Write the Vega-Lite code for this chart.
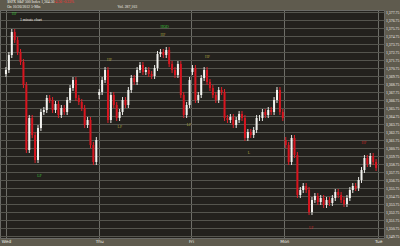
{
  "$schema": "https://vega.github.io/schema/vega-lite/v6.json",
  "width": 384,
  "height": 228,
  "autosize": {"type": "none"},
  "padding": {"left": 0, "top": 10, "right": 16, "bottom": 8},
  "background": "#5f5b4e",
  "config": {
    "view": {"fill": "#23211d", "stroke": "#6a6a66"},
    "font": "DejaVu Sans"
  },
  "datasets": {
    "bars": [
      {"i":0,"o":1370.0,"h":1370.875,"l":1369.625,"c":1370.5},
      {"i":1,"o":1370.5,"h":1372.75,"l":1370.125,"c":1372.375},
      {"i":2,"o":1372.375,"h":1375.625,"l":1372.0,"c":1375.25},
      {"i":3,"o":1375.25,"h":1375.625,"l":1373.875,"c":1374.25},
      {"i":4,"o":1374.25,"h":1374.625,"l":1372.375,"c":1372.75},
      {"i":5,"o":1372.75,"h":1373.125,"l":1371.125,"c":1371.5},
      {"i":6,"o":1371.5,"h":1371.875,"l":1368.25,"c":1368.625},
      {"i":7,"o":1368.625,"h":1369.0,"l":1360.125,"c":1360.5},
      {"i":8,"o":1360.5,"h":1364.875,"l":1360.125,"c":1364.5},
      {"i":9,"o":1364.5,"h":1364.875,"l":1362.0,"c":1362.375},
      {"i":10,"o":1362.375,"h":1362.75,"l":1358.875,"c":1359.25},
      {"i":11,"o":1359.25,"h":1363.625,"l":1358.875,"c":1363.25},
      {"i":12,"o":1363.25,"h":1365.625,"l":1362.875,"c":1365.25},
      {"i":13,"o":1365.25,"h":1365.875,"l":1364.875,"c":1365.5},
      {"i":14,"o":1365.5,"h":1367.375,"l":1365.125,"c":1367.0},
      {"i":15,"o":1367.0,"h":1367.375,"l":1366.375,"c":1366.75},
      {"i":16,"o":1366.75,"h":1367.125,"l":1365.125,"c":1365.5},
      {"i":17,"o":1365.5,"h":1366.625,"l":1365.125,"c":1366.25},
      {"i":18,"o":1366.25,"h":1366.625,"l":1364.5,"c":1364.875},
      {"i":19,"o":1364.875,"h":1366.125,"l":1364.5,"c":1365.75},
      {"i":20,"o":1365.75,"h":1366.125,"l":1364.875,"c":1365.25},
      {"i":21,"o":1365.25,"h":1367.125,"l":1364.875,"c":1366.75},
      {"i":22,"o":1366.75,"h":1368.625,"l":1366.375,"c":1368.25},
      {"i":23,"o":1368.25,"h":1369.625,"l":1367.875,"c":1369.25},
      {"i":24,"o":1369.25,"h":1369.625,"l":1366.625,"c":1367.0},
      {"i":25,"o":1367.0,"h":1367.375,"l":1366.125,"c":1366.5},
      {"i":26,"o":1366.5,"h":1366.875,"l":1365.375,"c":1365.75},
      {"i":27,"o":1365.75,"h":1366.125,"l":1363.25,"c":1363.625},
      {"i":28,"o":1363.625,"h":1364.625,"l":1363.25,"c":1364.25},
      {"i":29,"o":1364.25,"h":1364.625,"l":1360.75,"c":1361.125},
      {"i":30,"o":1361.125,"h":1361.5,"l":1358.625,"c":1359.0},
      {"i":31,"o":1359.0,"h":1362.125,"l":1358.625,"c":1361.75},
      {"i":32,"o":1367.375,"h":1368.125,"l":1366.875,"c":1367.75},
      {"i":33,"o":1367.75,"h":1369.625,"l":1367.375,"c":1369.25},
      {"i":34,"o":1369.25,"h":1370.875,"l":1368.875,"c":1370.5},
      {"i":35,"o":1370.5,"h":1370.875,"l":1363.875,"c":1364.25},
      {"i":36,"o":1364.25,"h":1367.75,"l":1363.875,"c":1367.375},
      {"i":37,"o":1367.375,"h":1367.75,"l":1365.75,"c":1366.125},
      {"i":38,"o":1366.125,"h":1366.5,"l":1364.125,"c":1364.5},
      {"i":39,"o":1364.5,"h":1365.625,"l":1364.125,"c":1365.25},
      {"i":40,"o":1365.25,"h":1367.125,"l":1364.875,"c":1366.75},
      {"i":41,"o":1366.75,"h":1367.125,"l":1365.75,"c":1366.125},
      {"i":42,"o":1366.125,"h":1368.375,"l":1365.75,"c":1368.0},
      {"i":43,"o":1368.0,"h":1369.875,"l":1367.625,"c":1369.5},
      {"i":44,"o":1369.5,"h":1369.875,"l":1368.625,"c":1369.0},
      {"i":45,"o":1369.0,"h":1370.875,"l":1368.625,"c":1370.5},
      {"i":46,"o":1370.5,"h":1371.5,"l":1370.125,"c":1371.125},
      {"i":47,"o":1371.125,"h":1371.5,"l":1369.875,"c":1370.25},
      {"i":48,"o":1370.25,"h":1370.875,"l":1369.875,"c":1370.5},
      {"i":49,"o":1370.5,"h":1370.875,"l":1369.625,"c":1370.0},
      {"i":50,"o":1370.0,"h":1370.375,"l":1369.375,"c":1369.75},
      {"i":51,"o":1369.75,"h":1371.125,"l":1369.375,"c":1370.75},
      {"i":52,"o":1370.75,"h":1372.875,"l":1370.375,"c":1372.5},
      {"i":53,"o":1372.5,"h":1373.125,"l":1372.125,"c":1372.75},
      {"i":54,"o":1372.75,"h":1373.125,"l":1372.0,"c":1372.375},
      {"i":55,"o":1372.375,"h":1373.375,"l":1372.0,"c":1373.0},
      {"i":56,"o":1373.0,"h":1373.375,"l":1370.875,"c":1371.25},
      {"i":57,"o":1371.25,"h":1371.625,"l":1370.125,"c":1370.5},
      {"i":58,"o":1370.5,"h":1370.875,"l":1369.5,"c":1369.875},
      {"i":59,"o":1369.875,"h":1371.625,"l":1369.5,"c":1371.25},
      {"i":60,"o":1371.25,"h":1371.625,"l":1367.0,"c":1367.375},
      {"i":61,"o":1367.375,"h":1367.75,"l":1364.5,"c":1364.875},
      {"i":62,"o":1364.875,"h":1366.5,"l":1364.5,"c":1366.125},
      {"i":63,"o":1366.125,"h":1369.625,"l":1365.75,"c":1369.25},
      {"i":64,"o":1370.25,"h":1371.125,"l":1369.875,"c":1370.75},
      {"i":65,"o":1370.75,"h":1371.125,"l":1366.375,"c":1366.75},
      {"i":66,"o":1366.75,"h":1367.75,"l":1366.375,"c":1367.375},
      {"i":67,"o":1367.375,"h":1369.875,"l":1367.0,"c":1369.5},
      {"i":68,"o":1369.5,"h":1370.875,"l":1369.125,"c":1370.5},
      {"i":69,"o":1370.5,"h":1370.875,"l":1368.625,"c":1369.0},
      {"i":70,"o":1369.0,"h":1369.375,"l":1367.875,"c":1368.25},
      {"i":71,"o":1368.25,"h":1368.625,"l":1367.0,"c":1367.375},
      {"i":72,"o":1367.375,"h":1367.75,"l":1366.375,"c":1366.75},
      {"i":73,"o":1366.75,"h":1368.375,"l":1366.375,"c":1368.0},
      {"i":74,"o":1368.0,"h":1368.375,"l":1367.375,"c":1367.75},
      {"i":75,"o":1367.75,"h":1368.125,"l":1364.125,"c":1364.5},
      {"i":76,"o":1364.5,"h":1364.875,"l":1363.875,"c":1364.25},
      {"i":77,"o":1364.25,"h":1365.0,"l":1363.875,"c":1364.625},
      {"i":78,"o":1364.625,"h":1365.0,"l":1363.25,"c":1363.625},
      {"i":79,"o":1363.625,"h":1364.625,"l":1363.25,"c":1364.25},
      {"i":80,"o":1364.25,"h":1365.375,"l":1363.875,"c":1365.0},
      {"i":81,"o":1365.0,"h":1365.375,"l":1364.125,"c":1364.5},
      {"i":82,"o":1364.5,"h":1364.875,"l":1361.625,"c":1362.0},
      {"i":83,"o":1362.0,"h":1363.125,"l":1361.625,"c":1362.75},
      {"i":84,"o":1362.75,"h":1363.125,"l":1362.0,"c":1362.375},
      {"i":85,"o":1362.375,"h":1363.375,"l":1362.0,"c":1363.0},
      {"i":86,"o":1363.0,"h":1364.875,"l":1362.625,"c":1364.5},
      {"i":87,"o":1364.5,"h":1364.875,"l":1364.125,"c":1364.5},
      {"i":88,"o":1364.5,"h":1365.625,"l":1364.125,"c":1365.25},
      {"i":89,"o":1365.25,"h":1365.625,"l":1364.5,"c":1364.875},
      {"i":90,"o":1364.875,"h":1365.875,"l":1364.5,"c":1365.5},
      {"i":91,"o":1365.5,"h":1365.875,"l":1364.875,"c":1365.25},
      {"i":92,"o":1365.25,"h":1367.125,"l":1364.875,"c":1366.75},
      {"i":93,"o":1366.75,"h":1368.375,"l":1366.375,"c":1368.0},
      {"i":94,"o":1368.0,"h":1368.375,"l":1364.875,"c":1365.25},
      {"i":95,"o":1365.25,"h":1365.625,"l":1364.125,"c":1364.5},
      {"i":96,"o":1361.75,"h":1362.125,"l":1360.75,"c":1361.125},
      {"i":97,"o":1361.125,"h":1361.5,"l":1358.625,"c":1359.0},
      {"i":98,"o":1359.0,"h":1362.375,"l":1358.625,"c":1362.0},
      {"i":99,"o":1362.0,"h":1362.375,"l":1359.5,"c":1359.875},
      {"i":100,"o":1359.875,"h":1360.25,"l":1354.5,"c":1354.875},
      {"i":101,"o":1354.875,"h":1355.875,"l":1354.5,"c":1355.5},
      {"i":102,"o":1355.5,"h":1356.375,"l":1355.125,"c":1356.0},
      {"i":103,"o":1356.0,"h":1356.375,"l":1355.125,"c":1355.5},
      {"i":104,"o":1355.5,"h":1355.875,"l":1352.375,"c":1352.75},
      {"i":105,"o":1352.75,"h":1354.625,"l":1352.375,"c":1354.25},
      {"i":106,"o":1354.25,"h":1355.125,"l":1353.875,"c":1354.75},
      {"i":107,"o":1354.75,"h":1355.125,"l":1353.625,"c":1354.0},
      {"i":108,"o":1354.0,"h":1354.875,"l":1353.625,"c":1354.5},
      {"i":109,"o":1354.5,"h":1354.875,"l":1353.25,"c":1353.625},
      {"i":110,"o":1353.625,"h":1354.625,"l":1353.25,"c":1354.25},
      {"i":111,"o":1354.25,"h":1354.625,"l":1353.5,"c":1353.875},
      {"i":112,"o":1353.875,"h":1354.875,"l":1353.5,"c":1354.5},
      {"i":113,"o":1354.5,"h":1355.625,"l":1354.125,"c":1355.25},
      {"i":114,"o":1355.25,"h":1355.625,"l":1354.5,"c":1354.875},
      {"i":115,"o":1354.875,"h":1355.25,"l":1353.875,"c":1354.25},
      {"i":116,"o":1354.25,"h":1354.625,"l":1353.375,"c":1353.75},
      {"i":117,"o":1353.75,"h":1354.875,"l":1353.375,"c":1354.5},
      {"i":118,"o":1354.5,"h":1355.875,"l":1354.125,"c":1355.5},
      {"i":119,"o":1355.5,"h":1356.375,"l":1355.125,"c":1356.0},
      {"i":120,"o":1356.0,"h":1356.375,"l":1355.375,"c":1355.75},
      {"i":121,"o":1355.75,"h":1357.125,"l":1355.375,"c":1356.75},
      {"i":122,"o":1356.75,"h":1358.375,"l":1356.375,"c":1358.0},
      {"i":123,"o":1358.0,"h":1359.875,"l":1357.625,"c":1359.5},
      {"i":124,"o":1359.5,"h":1359.875,"l":1358.375,"c":1358.75},
      {"i":125,"o":1358.75,"h":1360.125,"l":1358.375,"c":1359.75},
      {"i":126,"o":1359.75,"h":1360.125,"l":1358.625,"c":1359.0},
      {"i":127,"o":1359.0,"h":1359.375,"l":1357.875,"c":1358.25}
    ],
    "notes": [
      {"i": 0.4, "p": 1378.95, "txt": "$SPX S&P 500 Index  1,364.50", "kind": "head"},
      {"i": 16.5, "p": 1378.95, "txt": "-4.50  -0.33%", "kind": "down"},
      {"i": 0.4, "p": 1378.38, "txt": "On 10/26/2012   5-Min", "kind": "head"},
      {"i": 38.3, "p": 1378.38, "txt": "Vol. 287,103", "kind": "head"},
      {"i": 4.8, "p": 1376.75, "txt": "1 minute chart", "kind": "note"},
      {"i": 2, "p": 1377.5, "txt": "HP", "kind": "hi"},
      {"i": 10.7, "p": 1357.25, "txt": "LP", "kind": "hi"},
      {"i": 53, "p": 1375.9, "txt": "HOD", "kind": "hi"},
      {"i": 53, "p": 1374.9, "txt": "HP", "kind": "mid"},
      {"i": 34.7, "p": 1371.75, "txt": "HP", "kind": "mid"},
      {"i": 38.3, "p": 1363.4, "txt": "LP", "kind": "mid"},
      {"i": 68.3, "p": 1372.1, "txt": "HP", "kind": "mid"},
      {"i": 62, "p": 1363.6, "txt": "LP", "kind": "mid"},
      {"i": 83, "p": 1360.1, "txt": "L", "kind": "mid"},
      {"i": 122, "p": 1361.4, "txt": "HP", "kind": "lo"},
      {"i": 104, "p": 1350.75, "txt": "LP", "kind": "lo"}
    ]
  },
  "layer": [
    {
      "data": {"name": "bars"},
      "mark": {"type": "rule", "strokeWidth": 1},
      "encoding": {
        "x": {
          "field": "i", "type": "quantitative",
          "scale": {"domain": [-0.33, 128], "nice": false, "zero": false},
          "axis": {
            "orient": "bottom", "title": null,
            "values": [0, 32, 63.5, 95.5, 127.7],
            "tickCount": 20,
            "labelExpr": "datum.value < 1 ? 'Wed' : datum.value < 40 ? 'Thu' : datum.value < 70 ? 'Fri' : datum.value < 100 ? 'Mon' : 'Tue'",
            "grid": true, "gridColor": "#6e6e68", "gridWidth": 1,
            "ticks": false, "domain": false,
            "labelFontSize": 4.3, "labelColor": "#f0f0e8", "labelPadding": 1.5,
            "labelFlush": true, "labelOverlap": false
          }
        },
        "y": {
          "field": "l", "type": "quantitative",
          "scale": {"domain": [1349.5, 1378], "nice": false, "zero": false},
          "axis": {
            "orient": "right", "title": null,
            "values": [1349.75,1350.75,1351.75,1352.75,1353.75,1354.75,1355.75,1356.75,1357.75,1358.75,1359.75,1360.75,1361.75,1362.75,1363.75,1364.75,1365.75,1366.75,1367.75,1368.75,1369.75,1370.75,1371.75,1372.75,1373.75,1374.75,1375.75,1376.75,1377.75],
            "tickCount": 60,
            "format": ",.2f",
            "grid": true, "gridColor": "#55554e", "gridWidth": 1,
            "ticks": false, "domain": false,
            "labelOverlap": false, "labelBound": false,
            "labelFont": "Liberation Sans Narrow",
            "labelFontSize": 3.8, "labelColor": "#f4f4ee", "labelPadding": 1.5
          }
        },
        "y2": {"field": "h"},
        "color": {"condition": {"test": "datum.c >= datum.o", "value": "#e6e6e2"}, "value": "#e0202a"}
      }
    },
    {
      "data": {"name": "bars"},
      "mark": {"type": "bar", "size": 2},
      "encoding": {
        "x": {"field": "i", "type": "quantitative"},
        "y": {"field": "o", "type": "quantitative"},
        "y2": {"field": "c"},
        "color": {"condition": {"test": "datum.c >= datum.o", "value": "#f2f2ee"}, "value": "#d8151f"}
      }
    },
    {
      "data": {"name": "notes"},
      "mark": {"type": "text", "align": "left", "baseline": "middle", "fontSize": 3.8, "font": "Liberation Sans Narrow"},
      "encoding": {
        "x": {"field": "i", "type": "quantitative"},
        "y": {"field": "p", "type": "quantitative"},
        "text": {"field": "txt"},
        "color": {"field": "kind", "type": "nominal", "scale": {"domain": ["head", "down", "note", "hi", "mid", "lo"], "range": ["#f2f2ea", "#ff3030", "#f0f0ea", "#3cc03c", "#a8a040", "#c02828"]}, "legend": null}
      }
    }
  ]
}
